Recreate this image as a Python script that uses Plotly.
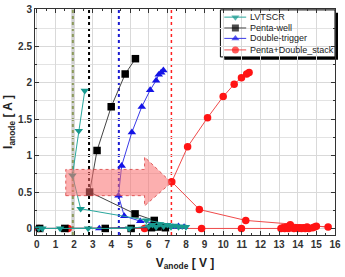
import plotly.graph_objects as go

# ---------------- data ----------------
lv_x = [0.1, 0.3, 1.25, 2.75, 4.95, 6.0, 6.2, 6.4, 6.6, 6.8, 7.0, 7.2, 7.4, 7.6, 7.8, 8.0,
        5.88, 2.35, 1.91, 2.25, 2.57]
lv_y = [0, 0, 0, 0, 0, 0.03, 0.05, 0.02, 0.06, 0.03, 0.05, 0.02, 0.04, 0.02, 0.03, 0.02,
        0.11, 0.27, 0.73, 1.34, 1.89]

pw_x = [0.15, 1.5, 3.67, 5.06, 6.15, 6.5, 6.9, 6.3, 5.27, 2.83, 3.23, 3.99, 4.74, 5.29]
pw_y = [0, 0, 0, 0, 0.01, 0.02, 0.01, 0.11, 0.2, 0.5, 1.07, 1.67, 2.12, 2.33]

dt_x = [0.15, 1.41, 3.35, 6.7, 7.0, 7.3, 7.6, 7.9, 5.55, 4.69, 4.38, 4.55, 5.10, 5.63,
        6.08, 6.40, 6.54, 6.67, 6.79]
dt_y = [0, 0, 0, 0.02, 0.03, 0.02, 0.03, 0.02, 0.10, 0.17, 0.45, 0.86, 1.32, 1.67,
        1.90, 2.03, 2.11, 2.14, 2.17]

st_x = [0.1, 1.68, 5.78, 8.84, 10.98, 13.1, 13.2, 13.3, 13.4, 13.5, 13.6, 13.7, 13.8,
        13.9, 14.0, 14.1, 14.2, 14.3, 14.4, 14.5, 14.6, 14.8, 14.9, 15.0, 15.63,
        11.21, 8.72, 7.24, 8.09, 9.16, 10.0, 10.59, 10.98, 11.26, 11.39]
st_y = [0, 0, 0, 0, 0, 0, 0.01, 0, 0.02, 0, 0.05, 0.01, 0, 0.01, 0, 0.01, 0, 0.01, 0,
        0.02, 0, 0.01, 0.02, 0.03, 0.02,
        0.11, 0.26, 0.64, 1.12, 1.52, 1.81, 1.98, 2.07, 2.12, 2.14]

series_names = ["LVTSCR", "Penta-well", "Double-trigger", "Penta+Double_stack"]
series_colors = ["#17998f", "#000000", "#1414e6", "#ff1414"]
line_colors = ["#2aa79d", "#444444", "#3a3ae8", "#f04a4a"]
series_symbols = ["triangle-down", "square", "triangle-up", "circle"]

# holding-voltage reference lines
vline_x = [1.93, 2.80, 4.40, 7.22]
vline_colors = ["#8c9a5c", "#000000", "#1a1ad0", "#ff2020"]

# arrow (body left, head start, tip, body low/high, head low/high)
arrow = dict(x0=1.55, xh=5.78, xt=7.22, yb0=0.45, yb1=0.81, yh0=0.31, yh1=0.98)

xs = [lv_x, pw_x, dt_x, st_x]
ys = [lv_y, pw_y, dt_y, st_y]

fig = go.Figure()

# draw order: stack first, then double, penta, lvtscr on top
for i in [3, 2, 1, 0]:
    fig.add_trace(go.Scatter(
        x=xs[i], y=ys[i], mode="lines+markers", name=series_names[i],
        line=dict(color=line_colors[i], width=1),
        marker=dict(symbol=series_symbols[i], size=7.5, color=series_colors[i],
                    line=dict(width=0)),
        showlegend=False, cliponaxis=True))

shapes = []
# vertical reference lines
shapes.append(dict(type="line", xref="x", yref="paper", x0=vline_x[0], x1=vline_x[0],
                   y0=0, y1=1, line=dict(color="#cfcfcf", width=3), layer="between"))
for xv, c in zip(vline_x, vline_colors):
    shapes.append(dict(type="line", xref="x", yref="paper", x0=xv, x1=xv, y0=0, y1=1,
                       line=dict(color=c, width=2 if c != "#ff2020" else 1.5, dash="dot"),
                       layer="between"))

a = arrow
path = (f"M {a['x0']},{a['yb0']} L {a['xh']},{a['yb0']} L {a['xh']},{a['yh0']} "
        f"L {a['xt']},{(a['yb0'] + a['yb1']) / 2} L {a['xh']},{a['yh1']} "
        f"L {a['xh']},{a['yb1']} L {a['x0']},{a['yb1']} Z")
shapes.append(dict(type="path", xref="x", yref="y", path=path,
                   fillcolor="rgba(250,110,110,0.55)",
                   line=dict(color="rgba(215,60,60,0.8)", width=1, dash="dot"),
                   layer="above"))

# legend box with shadow (paper coords)
shapes.append(dict(type="rect", xref="paper", yref="paper", x0=0.631, x1=1.01,
                   y0=0.775, y1=0.983, fillcolor="#000000", line=dict(width=0),
                   layer="between"))
shapes.append(dict(type="rect", xref="paper", yref="paper", x0=0.618, x1=1.0,
                   y0=0.788, y1=0.996, fillcolor="#ffffff",
                   line=dict(color="#000000", width=1), layer="between"))

leg_rows = [0.964, 0.916, 0.870, 0.819]
annotations = []
for i in range(4):
    fig.add_trace(go.Scatter(
        x=[0.631, 0.668, 0.704], y=[leg_rows[i]] * 3, xaxis="x2", yaxis="y2",
        mode="lines+markers", line=dict(color=line_colors[i], width=1),
        marker=dict(symbol=series_symbols[i], size=[0, 7, 0], color=series_colors[i],
                    line=dict(width=0)),
        showlegend=False, hoverinfo="skip"))
    annotations.append(dict(xref="paper", yref="paper", x=0.712, y=leg_rows[i],
                            xanchor="left", yanchor="middle", showarrow=False,
                            text=series_names[i], borderpad=0,
                            font=dict(family="Liberation Sans, Arial", size=9,
                                      color="#222222")))

tickfont = dict(family="Liberation Sans, Arial", size=10, color="#333333", weight="bold")

fig.update_layout(
    width=345, height=277,
    margin=dict(l=35, r=9, t=4, b=42),
    paper_bgcolor="white", plot_bgcolor="white",
    shapes=shapes, annotations=annotations,
    showlegend=False,
    xaxis=dict(range=[-0.1, 16], tick0=0, dtick=1, ticks="inside", ticklen=4,
               tickcolor="#333", showline=True, linecolor="#333", linewidth=1,
               mirror="ticks", showgrid=True, gridcolor="#d9d9d9", gridwidth=1,
               zeroline=False, tickfont=tickfont, ticklabeloverflow="allow",
               minor=dict(dtick=0.5, ticks="inside", ticklen=2, tickcolor="#333",
                          showgrid=False),
               title=dict(text="<b>V<sub>anode</sub> [ V ]</b>", standoff=9,
                          font=dict(family="Liberation Sans, Arial", size=12,
                                    color="#222222"))),
    yaxis=dict(range=[-0.09, 3.012], tick0=0, dtick=0.5, ticks="inside", ticklen=4,
               tickcolor="#333", showline=True, linecolor="#333", linewidth=1,
               mirror="ticks", showgrid=True, gridcolor="#d9d9d9", gridwidth=1,
               zeroline=False, tickfont=tickfont, ticklabeloverflow="allow",
               minor=dict(dtick=0.25, ticks="inside", ticklen=2, tickcolor="#333",
                          showgrid=True, gridcolor="#e3e3e3"),
               title=dict(text="<b>I<sub>anode</sub> [ A ]</b>", standoff=2,
                          font=dict(family="Liberation Sans, Arial", size=12,
                                    color="#222222"))),
    xaxis2=dict(overlaying="x", anchor="y2", range=[0, 1], visible=False,
                fixedrange=True, showgrid=False),
    yaxis2=dict(overlaying="y", anchor="x2", range=[0, 1], visible=False,
                fixedrange=True, showgrid=False),
)

fig.write_html("out.html")
